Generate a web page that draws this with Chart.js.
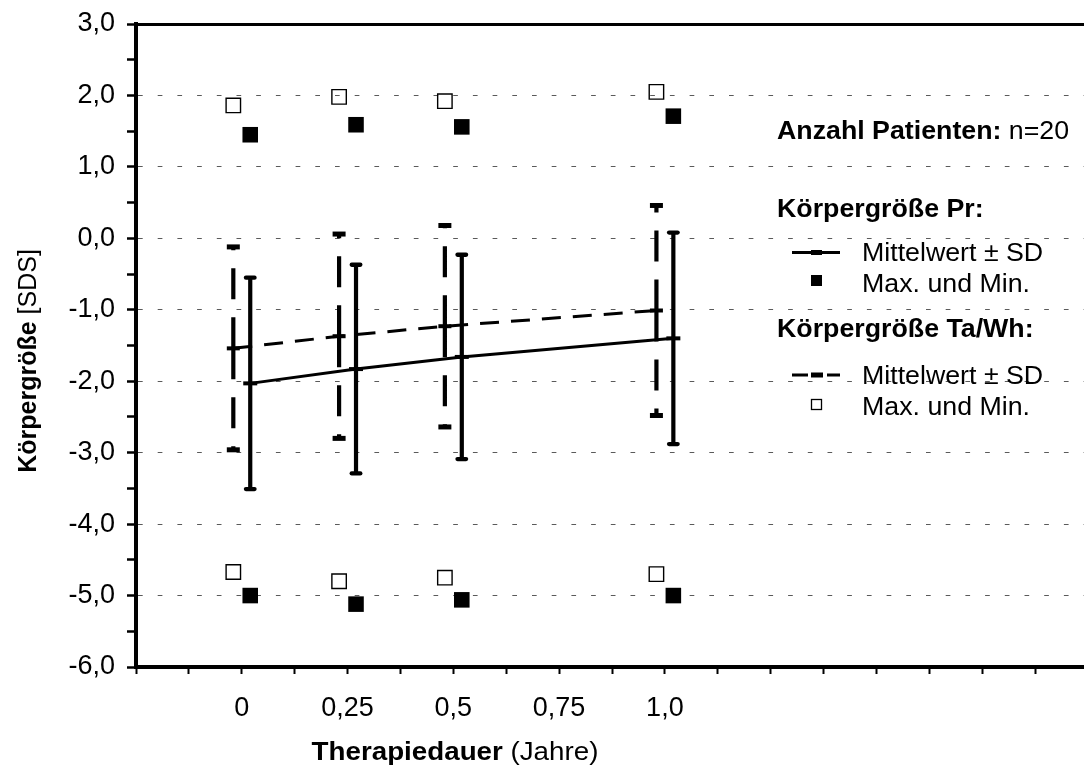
<!DOCTYPE html>
<html lang="de">
<head>
<meta charset="utf-8">
<title>Körpergröße unter Therapie</title>
<script src="https://cdn.jsdelivr.net/npm/chart.js@4.4.0/dist/chart.umd.min.js"></script>
<style>
  html, body { margin: 0; padding: 0; background: #fff; overflow: hidden; }
  canvas { display: block; }
</style>
</head>
<body>
<canvas id="chart" width="1088" height="769"></canvas>
<script>
// Therapiedauer (Jahre)
const years = [0, 0.25, 0.5, 1.0];

// Körpergröße Pr [SDS]
const prMean = [-2.03, -1.83, -1.66, -1.40];
const prSD   = [1.48, 1.46, 1.43, 1.48];
const prMax  = [1.45, 1.59, 1.56, 1.71];
const prMin  = [-5.00, -5.12, -5.06, -5.00];

// Körpergröße Ta/Wh [SDS]
const taMean = [-1.54, -1.37, -1.23, -1.01];
const taSD   = [1.42, 1.43, 1.41, 1.47];
const taMax  = [1.86, 1.98, 1.92, 2.05];
const taMin  = [-4.67, -4.80, -4.75, -4.70];

const patients = 20;

// tick labels
const xTickValues = [0, 0.25, 0.5, 0.75, 1.0];
const xTickLabels = ['0', '0,25', '0,5', '0,75', '1,0'];
const yTickValues = [-6, -5, -4, -3, -2, -1, 0, 1, 2, 3];
const yTickLabels = ['-6,0', '-5,0', '-4,0', '-3,0', '-2,0', '-1,0', '0,0', '1,0', '2,0', '3,0'];

const FONT = '"Liberation Sans", Arial, Helvetica, sans-serif';
const shift = 0.02; // Ta/Wh left of the tick, Pr right of it
const black = '#000';

Chart.defaults.font.family = FONT;
Chart.defaults.font.size = 27;
Chart.defaults.color = black;

function points(xs, ys, off) {
  return xs.map((x, i) => ({ x: x + off, y: ys[i] }));
}

// mean -> mean+sd and mean -> mean-sd as separate pieces, so dashes start at the mean
function whiskers(xs, mean, sd, off) {
  const out = [];
  xs.forEach((x, i) => {
    out.push({ x: x + off, y: mean[i] }, { x: x + off, y: mean[i] + sd[i] }, { x: x + off, y: null });
    out.push({ x: x + off, y: mean[i] }, { x: x + off, y: mean[i] - sd[i] }, { x: x + off, y: null });
  });
  return out;
}

function caps(xs, mean, sd, off) {
  const out = [];
  xs.forEach((x, i) => {
    out.push({ x: x + off, y: mean[i] + sd[i] }, { x: x + off, y: mean[i] - sd[i] });
  });
  return out;
}

const datasets = [
  // Pr
  {
    label: 'Pr Mittelwert',
    data: points(years, prMean, shift),
    borderColor: black, borderWidth: 3,
    pointStyle: 'line', pointRadius: 7, pointBorderWidth: 4, pointBorderColor: black
  },
  {
    label: 'Pr SD',
    data: whiskers(years, prMean, prSD, shift),
    borderColor: black, borderWidth: 4.2, pointRadius: 0
  },
  {
    label: 'Pr SD Enden',
    roundCaps: true,
    data: caps(years, prMean, prSD, shift),
    showLine: false,
    pointStyle: 'line', pointRadius: 4.3, pointBorderWidth: 4.3, pointBorderColor: black
  },
  {
    label: 'Pr Max/Min',
    data: points(years, prMax, shift).concat(points(years, prMin, shift)),
    showLine: false,
    pointStyle: 'rect', pointRadius: 11, pointBorderWidth: 0, pointBackgroundColor: black
  },
  // Ta/Wh
  {
    label: 'Ta/Wh Mittelwert',
    data: points(years, taMean, -shift),
    borderColor: black, borderWidth: 3, borderDash: [19, 12],
    pointStyle: 'line', pointRadius: 6.5, pointBorderWidth: 4, pointBorderColor: black
  },
  {
    label: 'Ta/Wh SD',
    data: whiskers(years, taMean, taSD, -shift),
    borderColor: black, borderWidth: 4.2, borderDash: [31, 18], pointRadius: 0
  },
  {
    label: 'Ta/Wh SD Enden',
    data: caps(years, taMean, taSD, -shift),
    showLine: false,
    pointStyle: 'line', pointRadius: 6.5, pointBorderWidth: 5, pointBorderColor: black
  },
  {
    label: 'Ta/Wh Max/Min',
    data: points(years, taMax, -shift).concat(points(years, taMin, -shift)),
    showLine: false,
    pointStyle: 'rect', pointRadius: 10.2, pointBorderWidth: 1.4,
    pointBorderColor: black, pointBackgroundColor: 'rgba(0,0,0,0)'
  }
];
datasets.forEach(d => { d.xAxisID = 'x'; d.yAxisID = 'y'; d.tension = 0; d.fill = false; });

// text with bold / regular runs, slightly widened like the original figure
function drawRuns(ctx, runs, x, y, align, size, stretch) {
  const fontOf = b => (b ? 'bold ' : '') + size + 'px ' + FONT;
  let w = 0;
  runs.forEach(([t, b]) => { ctx.font = fontOf(b); w += ctx.measureText(t).width; });
  ctx.save();
  ctx.translate(align === 'center' ? x - w * stretch / 2 : x, y);
  ctx.scale(stretch, 1);
  ctx.textAlign = 'left';
  let cx = 0;
  runs.forEach(([t, b]) => {
    ctx.font = fontOf(b);
    ctx.fillText(t, cx, 0);
    cx += ctx.measureText(t).width;
  });
  ctx.restore();
}

const roundCapPlugin = {
  id: 'roundCaps',
  beforeDatasetDraw(chart, args) {
    chart.ctx.save();
    if (chart.data.datasets[args.index].roundCaps) chart.ctx.lineCap = 'round';
  },
  afterDatasetDraw(chart) {
    chart.ctx.restore();
  }
};

const textLayer = {
  id: 'textLayer',
  afterDraw(chart) {
    const ctx = chart.ctx;
    ctx.save();
    ctx.fillStyle = black;
    ctx.strokeStyle = black;
    ctx.textBaseline = 'alphabetic';

    // axis titles
    drawRuns(ctx, [['Therapiedauer', true], [' (Jahre)', false]], 455, 760, 'center', 26, 1.067);
    ctx.save();
    ctx.translate(35.5, 361);
    ctx.rotate(-Math.PI / 2);
    drawRuns(ctx, [['Körpergröße', true], [' [SDS]', false]], 0, 0, 'center', 25, 1);
    ctx.restore();

    // legend
    const L = 25, k = 1.07;
    drawRuns(ctx, [['Anzahl Patienten:', true], [' n=' + patients, false]], 777, 139, 'left', L, k);
    drawRuns(ctx, [['Körpergröße Pr:', true]], 777, 217, 'left', L, k);
    drawRuns(ctx, [['Mittelwert ± SD', false]], 862, 261, 'left', L, k);
    drawRuns(ctx, [['Max. und Min.', false]], 862, 291.5, 'left', L, k);
    drawRuns(ctx, [['Körpergröße Ta/Wh:', true]], 777, 336.5, 'left', L, k);
    drawRuns(ctx, [['Mittelwert ± SD', false]], 862, 384, 'left', L, k);
    drawRuns(ctx, [['Max. und Min.', false]], 862, 414.5, 'left', L, k);

    ctx.lineWidth = 3;
    ctx.beginPath();
    ctx.moveTo(792, 252.5); ctx.lineTo(840, 252.5);
    ctx.stroke();
    ctx.fillRect(811, 250, 11, 5);
    ctx.fillRect(811, 275, 11, 11);

    ctx.beginPath();
    ctx.moveTo(792, 375); ctx.lineTo(808, 375);
    ctx.moveTo(827, 375); ctx.lineTo(840, 375);
    ctx.stroke();
    ctx.fillRect(811, 372.5, 12, 5);
    ctx.lineWidth = 1.3;
    ctx.strokeRect(811.5, 399.5, 10, 10);
    ctx.restore();
  }
};

new Chart(document.getElementById('chart'), {
  type: 'line',
  data: { datasets },
  options: {
    responsive: false,
    maintainAspectRatio: false,
    animation: false,
    events: [],
    layout: { padding: 0, autoPadding: false },
    plugins: { legend: { display: false }, tooltip: { enabled: false } },
    scales: {
      x: {
        type: 'linear',
        position: 'bottom',
        min: -0.25,
        max: 2.0,
        afterFit: s => { s.height = 102; s.paddingLeft = 0; s.paddingRight = 0; },
        grid: { display: true, drawOnChartArea: false, tickLength: 7, tickWidth: 2, tickColor: black },
        border: { display: true, color: black, width: 4 },
        ticks: {
          stepSize: 0.125,
          autoSkip: false,
          maxRotation: 0,
          minRotation: 0,
          padding: 18,
          callback: v => {
            const i = xTickValues.findIndex(t => Math.abs(t - v) < 1e-9);
            return i >= 0 ? xTickLabels[i] : '';
          }
        }
      },
      x2: {
        type: 'linear',
        position: 'top',
        afterFit: s => { s.height = 24; s.paddingLeft = 0; s.paddingRight = 0; },
        grid: { display: false, drawTicks: false },
        border: { display: true, color: black, width: 3 },
        ticks: { display: false }
      },
      y: {
        type: 'linear',
        position: 'left',
        min: -6,
        max: 3,
        afterFit: s => { s.width = 136; s.paddingTop = 0; s.paddingBottom = 0; },
        grid: {
          color: c => (c.tick && Number.isInteger(c.tick.value) && c.tick.value > -6 && c.tick.value < 3)
            ? '#5a5a5a' : 'rgba(0,0,0,0)',
          lineWidth: 1,
          tickLength: 9,
          tickWidth: 2.5,
          tickColor: black
        },
        border: { display: true, color: black, width: 4, dash: [4.7, 15] },
        ticks: {
          stepSize: 0.5,
          autoSkip: false,
          padding: 12,
          callback: v => {
            const i = yTickValues.indexOf(v);
            return i >= 0 ? yTickLabels[i] : '';
          }
        }
      }
    }
  },
  plugins: [roundCapPlugin, textLayer]
});
</script>
</body>
</html>
